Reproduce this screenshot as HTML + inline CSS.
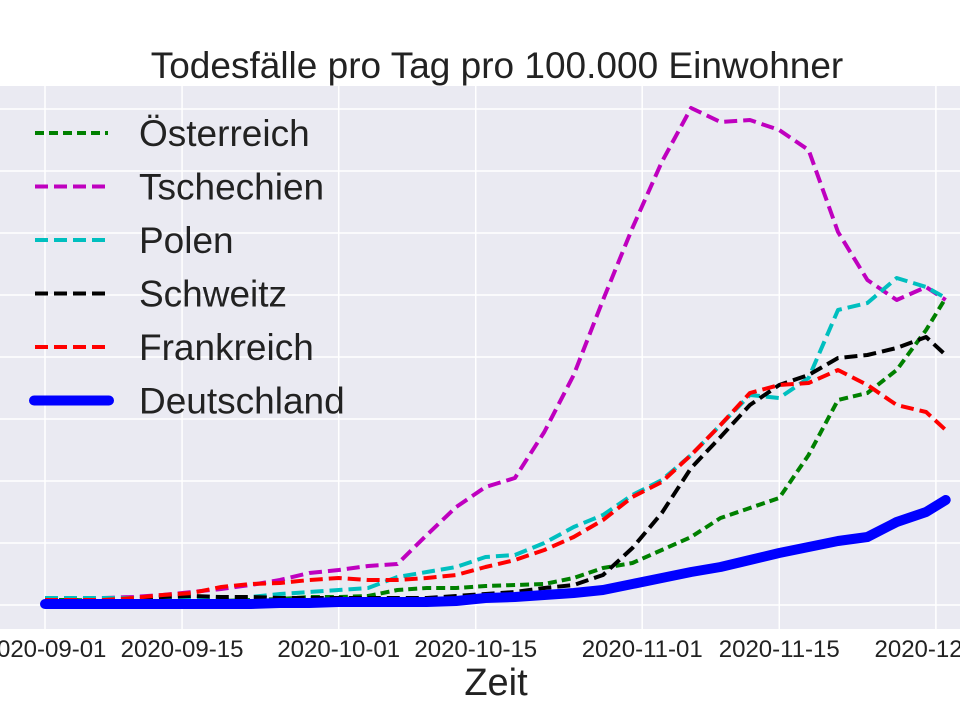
<!DOCTYPE html>
<html><head><meta charset="utf-8"><style>
html,body{margin:0;padding:0;background:#fff;}
svg{display:block;font-family:"Liberation Sans",sans-serif;}
</style></head><body>
<svg id="chart" width="960" height="720"></svg>
<script>
const days = [0,3,6,9,12,15,18,21,24,27,30,33,36,39,42,45,48,51,54,57,60,63,66,69,72,75,78,81,84,87,90,92];
const tschechien = [5,5,7,8,10,13,16,20,25,32,35,39,41,70,98,118,127,173,230,305,377,443,497,483,485,475,455,373,325,305,318,305];
const polen = [7,7,7,7,5,5,5,8,11,13,15,17,28,33,38,48,50,62,78,90,110,125,150,180,210,207,227,295,302,327,318,307];
const frankreich = [5,5,5,7,10,12,18,21,22,25,27,25,25,27,30,38,45,55,68,85,108,123,150,180,212,220,222,235,220,200,193,175];
const schweitz = [4,4,4,5,8,9,8,8,7,7,7,7,7,7,9,11,13,17,20,30,57,92,137,168,200,220,230,247,250,257,268,250];
const oesterreich = [5,5,4,4,4,4,4,5,6,8,8,9,15,17,17,19,20,21,27,37,42,55,68,87,97,107,150,205,212,235,275,307];
const deutschland = [1,1,1,1,1,1,1,1,2,2,3,3,3,3,4,7,8,10,12,15,21,27,33,38,45,52,58,64,68,83,93,105];
const tickDays = [0,14,30,44,61,75,91];
const tickLabels = ["2020-09-01","2020-09-15","2020-10-01","2020-10-15","2020-11-01","2020-11-15","2020-12-01"];
const yTicks = [0,62,124,186,248,310,372,434,496];
const seriesNames = ["Österreich","Tschechien","Polen","Schweitz","Frankreich","Deutschland"];

const NS="http://www.w3.org/2000/svg";
const svg=document.getElementById('chart');
const L=0,R=960,T=86,B=629;
const x=d=>45+d*9.79;
const y=v=>605-v;
function mk(tag,attrs,parent){const e=document.createElementNS(NS,tag);for(const k in attrs)e.setAttribute(k,attrs[k]);(parent||svg).appendChild(e);return e;}

const bg=mk('rect',{x:L,y:T,width:R-L,height:B-T,fill:'#eaeaf2'});


yTicks.forEach(v=>{const g=mk('line',{x1:L,x2:R,y1:y(v),y2:y(v),stroke:'#fff','stroke-width':1.5});

});
tickDays.forEach((d,i)=>{const g=mk('line',{x1:x(d),x2:x(d),y1:T,y2:B,stroke:'#fff','stroke-width':1.5});


const t=mk('text',{x:x(d),y:657,'text-anchor':'middle','font-size':24,fill:'#222'});t.textContent=tickLabels[i];

});

const series=[[oesterreich,'#008000',4,'9 5'],[tschechien,'#bf00bf',4,'13 6'],[polen,'#00bfbf',4,'13 6'],[schweitz,'#000',4,'13 6'],[frankreich,'#ff0000',4,'13 6'],[deutschland,'#0000ff',10,null]];
series.forEach((s,i)=>{
  const pts=s[0].map((v,j)=>x(days[j]).toFixed(1)+','+y(v).toFixed(1)).join(' ');
  const a={points:pts,fill:'none',stroke:s[1],'stroke-width':s[2],'stroke-linejoin':'round','stroke-linecap':s[3]?'butt':'round'};
  if(s[3])a['stroke-dasharray']=s[3];
  const p=mk('polyline',a);
  
  
  const ly=133+i*53.5;
  const la={x1:s[3]?35:34,x2:s[3]?108:109,y1:ly,y2:ly,stroke:s[1],'stroke-width':s[2],'stroke-linecap':s[3]?'butt':'round'};
  if(s[3])la['stroke-dasharray']=s[3];
  const ll=mk('line',la);
  
  
  const lt=mk('text',{x:139,y:ly+13,'font-size':37,fill:'#222'});lt.textContent=seriesNames[i];
  
  
});
const title=mk('text',{x:497,y:78,'text-anchor':'middle','font-size':37,fill:'#222'});title.textContent='Todesfälle pro Tag pro 100.000 Einwohner';


const xt=mk('text',{x:496,y:695,'text-anchor':'middle','font-size':38,fill:'#222'});xt.textContent='Zeit';


</script>
</body></html>
